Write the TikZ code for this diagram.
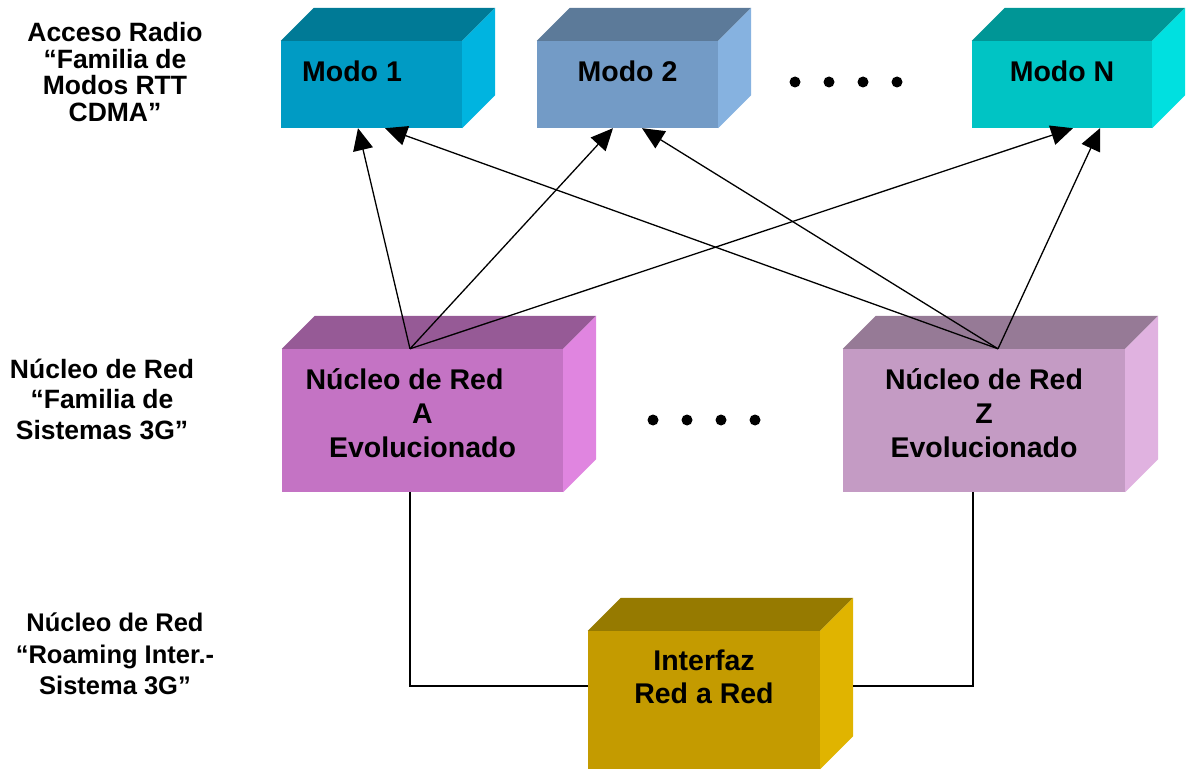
\documentclass[tikz,border=0pt]{standalone}
\usepackage{fontspec}
\setmainfont{Liberation Sans}
\usepackage{tikz}
\usetikzlibrary{arrows.meta, positioning, calc}
% caras: frente, arriba, lado
\definecolor{frontm1}{RGB}{0,155,196}
\definecolor{topm1}{RGB}{0,122,150}
\definecolor{sidem1}{RGB}{0,180,224}
\definecolor{frontm2}{RGB}{115,155,198}
\definecolor{topm2}{RGB}{92,122,153}
\definecolor{sidem2}{RGB}{134,178,224}
\definecolor{frontmn}{RGB}{0,196,196}
\definecolor{topmn}{RGB}{0,150,150}
\definecolor{sidemn}{RGB}{0,224,224}
\definecolor{frontna}{RGB}{196,115,196}
\definecolor{topna}{RGB}{150,90,150}
\definecolor{sidena}{RGB}{224,133,224}
\definecolor{frontnz}{RGB}{196,155,196}
\definecolor{topnz}{RGB}{150,122,150}
\definecolor{sidenz}{RGB}{224,178,224}
\definecolor{frontir}{RGB}{196,155,0}
\definecolor{topir}{RGB}{150,122,0}
\definecolor{sideir}{RGB}{224,180,0}
\tikzset{
  cara/.style={rectangle, inner sep=0pt, align=center,
    font=\fontsize{28.5}{34}\selectfont\bfseries},
  modo/.style={cara, minimum width=181pt, minimum height=87pt, text depth=27pt},
  nucleo/.style={cara, minimum width=281pt, minimum height=143pt, text depth=15pt},
  etiqueta/.style={align=center, inner sep=0pt},
  flecha/.style={-{Triangle[length=22pt, width=20pt]}, line width=1.3pt},
  linea/.style={line width=1.3pt}
}

\begin{document}
\begin{tikzpicture}[x=1pt, y=-1pt]
  \useasboundingbox (0,0) rectangle (1187,770);

  % Etiquetas de nivel
  \node[etiqueta, font=\fontsize{26.5}{26.7}\selectfont\bfseries] (lradio) at (115,72)
    {Acceso Radio\\“Familia de\\Modos RTT\\CDMA”};
  \node[etiqueta, font=\fontsize{26.5}{30.5}\selectfont\bfseries] (lnucleo) at (102,399)
    {Núcleo de Red\\“Familia de\\Sistemas 3G”};
  \node[etiqueta, font=\fontsize{25.5}{31.5}\selectfont\bfseries] (lroaming) at (115,654)
    {Núcleo de Red\\“Roaming Inter.-\\Sistema 3G”};

  % Modos
  \node[modo, fill=frontm1] (m1) at (371.5,84.5) {Modo 1\hspace*{39pt}};
  \node[modo, fill=frontm2] (m2) at (627.5,84.5) {Modo 2};
  \node[modo, fill=frontmn, minimum width=180pt] (mn) at (1062,84.5) {Modo N};

  % Nucleos
  \node[nucleo, fill=frontna] (na) at (422.5,420.5) {Núcleo de Red\hspace*{36pt}\\A\\Evolucionado};
  \node[nucleo, fill=frontnz, minimum width=282pt] (nz) at (984,420.5) {Núcleo de Red\\Z\\Evolucionado};

  % Interfaz
  \node[cara, fill=frontir, minimum width=232pt, minimum height=138pt, text depth=47pt,
    font=\fontsize{28.5}{33}\selectfont\bfseries] (ir) at (704,700) {Interfaz\\Red a Red};

  % Caras de arriba y de lado
  \foreach \n in {m1,m2,mn,na,nz,ir} {
    \fill[top\n] (\n.north west) -- ++(33,-33) -- ([shift={(33,-33)}]\n.north east)
      -- (\n.north east) -- cycle;
    \fill[side\n] (\n.north east) -- ++(33,-33) -- ([shift={(33,-33)}]\n.south east)
      -- (\n.south east) -- cycle;
  }

  % Puntos
  \foreach \x in {795,829,863,897} \fill (\x,82) circle (5.5pt);
  \foreach \x in {653,687,721,755} \fill (\x,420) circle (5.5pt);

  % Conexiones al interfaz
  \draw[linea] ([xshift=-12.5pt]na.south) |- ([yshift=14pt]ir.west);
  \draw[linea] ([xshift=-11pt]nz.south) |- ([xshift=33pt, yshift=14pt]ir.east);

  % Flechas a los modos
  \draw[flecha] ([xshift=-12.5pt]na.north) -- ([xshift=-13.5pt]m1.south);
  \draw[flecha] ([xshift=-12.5pt]na.north) -- ([xshift=-14.5pt]m2.south);
  \draw[flecha] ([xshift=-12.5pt]na.north) -- ([xshift=11pt]mn.south);
  \draw[flecha] ([xshift=14pt]nz.north) -- ([xshift=13.5pt]m1.south);
  \draw[flecha] ([xshift=14pt]nz.north) -- ([xshift=14.5pt]m2.south);
  \draw[flecha] ([xshift=14pt]nz.north) -- ([xshift=38pt]mn.south);
\end{tikzpicture}
\end{document}
